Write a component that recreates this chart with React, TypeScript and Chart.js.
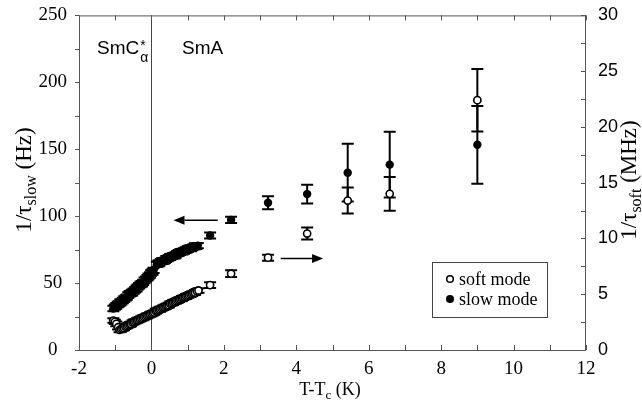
import React, { useEffect, useRef } from "react";
import { Chart, registerables } from "chart.js";
Chart.register(...registerables);

// ---- data ----
// slow mode relaxation rate (Hz, left axis)
const slowT = [
  -1.05, -1.01, -0.97, -0.93, -0.9, -0.86, -0.83, -0.79, -0.75, -0.71, -0.68, -0.64, -0.6, -0.56, -0.53, -0.49,
  -0.45, -0.41, -0.38, -0.34, -0.3, -0.26, -0.23, -0.19, -0.15, -0.11, -0.08, -0.04, -0.01, 0.03, 0.06,
  0.15, 0.19, 0.22, 0.26, 0.3, 0.34, 0.37, 0.41, 0.45, 0.49, 0.52, 0.56, 0.6, 0.64, 0.67, 0.71,
  0.75, 0.79, 0.82, 0.86, 0.9, 0.94, 0.97, 1.01, 1.05, 1.09, 1.12, 1.16, 1.2, 1.24, 1.28,
  1.62, 2.2, 3.22, 4.3, 5.42, 6.58, 9.0,
];
const slowHz = [
  31, 32, 33, 34, 34.5, 35.5, 36, 37, 38, 39, 39.5, 41, 42, 42.5, 43, 44,
  45, 46, 47, 48, 49, 49.5, 50.5, 52, 53, 54, 55, 56, 57.5, 58.5, 59.5,
  64, 64.5, 65, 66, 66.5, 66.5, 67, 68, 68.5, 69, 69.5, 70, 70.5, 70.5, 71, 72,
  72.5, 73, 73.5, 73.5, 74, 74.5, 75, 75.5, 76, 76, 76.5, 77, 77.5, 77.5, 78,
  85.6, 97.2, 110, 116.5, 132.5, 138.5, 153.3,
];
const slowErr = [
  2, 2, 2.2, 2, 2, 2.2, 2, 2, 2.2, 2, 2, 2.2, 2, 2, 2.2, 2,
  2, 2.2, 2, 2, 2.2, 2, 2, 2.2, 2, 2, 2.2, 2, 2, 2.2, 2,
  2, 2.2, 2, 2, 2.2, 2, 2, 2.2, 2, 2, 2.2, 2, 2, 2.2, 2, 2,
  2.2, 2, 2, 2.2, 2, 2, 2.2, 2, 2, 2.2, 2, 2, 2.2, 2, 2,
  2.2, 2.4, 4.8, 7, 21.6, 24.6, 29,
];

// soft mode relaxation rate (MHz, right axis)
const softT = [
  -1.05, -1.01, -0.97, -0.92, -0.88, -0.84, -0.8, -0.76, -0.72, -0.68, -0.64, -0.6, -0.56, -0.52, -0.48,
  -0.44, -0.4, -0.36, -0.32, -0.28, -0.24, -0.2, -0.16, -0.12, -0.08, -0.04, 0.0, 0.04, 0.08, 0.12,
  0.16, 0.2, 0.24, 0.28, 0.32, 0.36, 0.4, 0.44, 0.48, 0.52, 0.56, 0.6, 0.64, 0.68, 0.72,
  0.76, 0.8, 0.84, 0.88, 0.92, 0.96, 1.0, 1.04, 1.08, 1.12, 1.16, 1.2, 1.25, 1.3,
  1.62, 2.2, 3.22, 4.3, 5.42, 6.58, 9.0,
];
const softMHz = [
  2.64, 2.52, 2.34, 2.04, 1.8, 1.86, 1.92, 1.98, 2.1, 2.16, 2.22, 2.28, 2.34, 2.46, 2.52,
  2.58, 2.64, 2.7, 2.76, 2.82, 2.88, 2.94, 3.0, 3.06, 3.12, 3.18, 3.24, 3.3, 3.36, 3.48,
  3.54, 3.6, 3.66, 3.72, 3.78, 3.84, 3.9, 3.96, 4.02, 4.14, 4.2, 4.26, 4.32, 4.38, 4.44,
  4.5, 4.56, 4.62, 4.68, 4.74, 4.8, 4.86, 4.92, 4.98, 5.04, 5.1, 5.16, 5.28, 5.34,
  5.82, 6.84, 8.28, 10.44, 13.4, 14.0, 22.4,
];
const softErr = [
  0.2, 0.2, 0.22, 0.2, 0.2, 0.22, 0.2, 0.2, 0.22, 0.2, 0.2, 0.22, 0.2, 0.2, 0.22,
  0.2, 0.2, 0.22, 0.2, 0.2, 0.22, 0.2, 0.2, 0.22, 0.2, 0.2, 0.22, 0.2, 0.2, 0.22,
  0.2, 0.2, 0.22, 0.2, 0.2, 0.22, 0.2, 0.2, 0.22, 0.2, 0.2, 0.22, 0.2, 0.2, 0.22,
  0.2, 0.2, 0.22, 0.2, 0.2, 0.22, 0.2, 0.2, 0.22, 0.2, 0.2, 0.22, 0.2, 0.2,
  0.25, 0.3, 0.27, 0.54, 1.16, 1.52, 2.8,
];

const xTicks = [-2, 0, 2, 4, 6, 8, 10, 12];
const yLeftTicks = [0, 50, 100, 150, 200, 250];
const yRightTicks = [0, 5, 10, 15, 20, 25, 30];

const phaseBoundary = 0;
const arrowSlow = { from: 1.83, to: 0.61, y: 97 };
const arrowSoft = { from: 3.57, to: 4.74, y: 8.2 };

const SERIF = '"Liberation Serif", "Times New Roman", serif';
const SANS = '"Liberation Sans", Arial, sans-serif';

function drawRich(ctx: CanvasRenderingContext2D, parts: { t: string; f: string; dy: number }[], cx: number, cy: number, rot: number, align: "center" | "left" = "center") {
  ctx.save();
  ctx.translate(cx, cy);
  ctx.rotate(rot);
  ctx.textBaseline = "alphabetic";
  ctx.textAlign = "left";
  let w = 0;
  for (const p of parts) { ctx.font = p.f; w += ctx.measureText(p.t).width; }
  let x = align === "center" ? -w / 2 : 0;
  for (const p of parts) {
    ctx.font = p.f;
    ctx.fillText(p.t, x, p.dy);
    x += ctx.measureText(p.t).width;
  }
  ctx.restore();
}

function arrow(ctx: CanvasRenderingContext2D, x1: number, y1: number, x2: number, y2: number) {
  const dir = Math.sign(x2 - x1);
  const hl = 11, hw = 4.5;
  ctx.beginPath();
  ctx.moveTo(x1, y1);
  ctx.lineTo(x2 - dir * hl, y2);
  ctx.stroke();
  ctx.beginPath();
  ctx.moveTo(x2, y2);
  ctx.lineTo(x2 - dir * hl, y2 - hw);
  ctx.lineTo(x2 - dir * hl, y2 + hw);
  ctx.closePath();
  ctx.fill();
}

const decor = {
  id: "decor",
  beforeDatasetsDraw(chart: any) {
    const { ctx, chartArea: a, scales } = chart;
    const xs = scales.x, ys = scales.y, y1 = scales.y1;
    ctx.save();
    ctx.strokeStyle = "#444";
    ctx.lineWidth = 1;
    const px0 = Math.round(xs.getPixelForValue(phaseBoundary)) + 0.5;
    ctx.beginPath();
    ctx.moveTo(px0, a.top);
    ctx.lineTo(px0, a.bottom);
    ctx.stroke();
    ctx.strokeStyle = "#000";
    ctx.lineWidth = 2;
    const drawErr = (T: number[], V: number[], E: number[], sc: any) => {
      for (let i = 0; i < T.length; i++) {
        const px = xs.getPixelForValue(T[i]);
        const top = sc.getPixelForValue(V[i] + E[i]);
        const bot = sc.getPixelForValue(V[i] - E[i]);
        ctx.beginPath();
        ctx.moveTo(px, top); ctx.lineTo(px, bot);
        ctx.moveTo(px - 6, top); ctx.lineTo(px + 6, top);
        ctx.moveTo(px - 6, bot); ctx.lineTo(px + 6, bot);
        ctx.stroke();
      }
    };
    drawErr(slowT, slowHz, slowErr, ys);
    drawErr(softT, softMHz, softErr, y1);
    ctx.restore();
  },
  afterDraw(chart: any) {
    const { ctx, chartArea: a, scales } = chart;
    const xs = scales.x, ys = scales.y, y1 = scales.y1;
    ctx.save();
    ctx.strokeStyle = "#555";
    ctx.lineWidth = 1;
    ctx.strokeRect(a.left + 0.5, a.top + 0.5, a.right - a.left - 1, a.bottom - a.top);
    ctx.beginPath();
    for (let v = -2; v <= 12; v++) {
      const px = Math.round(xs.getPixelForValue(v)) + 0.5;
      ctx.moveTo(px, a.bottom); ctx.lineTo(px, a.bottom - 5);
      ctx.moveTo(px, a.top); ctx.lineTo(px, a.top + 5);
    }
    for (let v = 0; v <= 250; v += 25) {
      const py = Math.round(ys.getPixelForValue(v)) + 0.5;
      ctx.moveTo(a.left, py); ctx.lineTo(a.left - 4, py);
    }
    for (let v = 0; v <= 30; v += 2.5) {
      const py = Math.round(y1.getPixelForValue(v)) + 0.5;
      ctx.moveTo(a.right, py); ctx.lineTo(a.right - 5, py);
    }
    ctx.stroke();

    ctx.fillStyle = "#000";
    ctx.strokeStyle = "#000";
    ctx.lineWidth = 1.5;
    arrow(ctx, xs.getPixelForValue(arrowSlow.from), ys.getPixelForValue(arrowSlow.y), xs.getPixelForValue(arrowSlow.to), ys.getPixelForValue(arrowSlow.y));
    arrow(ctx, xs.getPixelForValue(arrowSoft.from), y1.getPixelForValue(arrowSoft.y), xs.getPixelForValue(arrowSoft.to), y1.getPixelForValue(arrowSoft.y));

    const lx = a.left + 18, ly = a.top + 39;
    drawRich(ctx, [{ t: "SmC", f: `19px ${SANS}`, dy: 0 }], lx, ly, 0, "left");
    ctx.font = `19px ${SANS}`;
    const wC = ctx.measureText("SmC").width;
    ctx.font = `14px ${SANS}`;
    ctx.textAlign = "left";
    ctx.fillText("α", lx + wC + 1, ly + 8);
    ctx.fillText("*", lx + wC + 1, ly - 4);
    drawRich(ctx, [{ t: "SmA", f: `19px ${SANS}`, dy: 0 }], a.left + 103, ly, 0, "left");

    const bx = a.right - 154, by = a.bottom - 88, bw = 115, bh = 55;
    ctx.strokeStyle = "#444";
    ctx.lineWidth = 1;
    ctx.strokeRect(bx + 0.5, by + 0.5, bw, bh);
    ctx.lineWidth = 1.5;
    ctx.strokeStyle = "#000";
    ctx.beginPath();
    ctx.arc(bx + 18, by + 17, 3.3, 0, Math.PI * 2);
    ctx.fillStyle = "#fff"; ctx.fill(); ctx.stroke();
    ctx.fillStyle = "#000";
    ctx.beginPath();
    ctx.arc(bx + 18, by + 37, 4, 0, Math.PI * 2);
    ctx.fill();
    ctx.font = `18px ${SERIF}`;
    ctx.textAlign = "left";
    ctx.textBaseline = "alphabetic";
    ctx.fillText("soft mode", bx + 27, by + 23);
    ctx.fillText("slow mode", bx + 27, by + 43);

    drawRich(ctx, [
      { t: "1/τ", f: `23px ${SERIF}`, dy: 0 },
      { t: "slow", f: `16px ${SERIF}`, dy: 5 },
      { t: " (Hz)", f: `23px ${SERIF}`, dy: 0 },
    ], 31, 180, -Math.PI / 2);
    drawRich(ctx, [
      { t: "1/τ", f: `23px ${SERIF}`, dy: 0 },
      { t: "soft", f: `16px ${SERIF}`, dy: 5 },
      { t: " (MHz)", f: `23px ${SERIF}`, dy: 0 },
    ], 636, 180, -Math.PI / 2);
    drawRich(ctx, [
      { t: "T-T", f: `18px ${SERIF}`, dy: 0 },
      { t: "c", f: `13px ${SERIF}`, dy: 4 },
      { t: " (K)", f: `18px ${SERIF}`, dy: 0 },
    ], 330, 395, 0);
    ctx.restore();
  },
};

export default function App() {
  const ref = useRef<HTMLCanvasElement>(null);
  useEffect(() => {
    document.body.style.margin = "0";
    const chart = new Chart(ref.current!, {
      type: "scatter",
      data: {
        datasets: [
          {
            label: "soft mode",
            data: softT.map((t, i) => ({ x: t, y: softMHz[i] })),
            yAxisID: "y1",
            pointRadius: 3.6,
            pointBorderWidth: 1.6,
            pointBackgroundColor: "#fff",
            pointBorderColor: "#000",
          },
          {
            label: "slow mode",
            data: slowT.map((t, i) => ({ x: t, y: slowHz[i] })),
            yAxisID: "y",
            pointRadius: 4.2,
            pointBorderWidth: 0,
            pointBackgroundColor: "#000",
            pointBorderColor: "#000",
          },
        ],
      },
      options: {
        animation: false,
        responsive: false,
        events: [],
        layout: { padding: { top: 14, left: 0, right: 0, bottom: 0 } },
        plugins: { legend: { display: false }, tooltip: { enabled: false } },
        scales: {
          x: {
            type: "linear",
            min: -2,
            max: 12,
            grid: { display: false },
            border: { display: false },
            afterBuildTicks: (s: any) => { s.ticks = xTicks.map((v) => ({ value: v })); },
            afterFit: (s: any) => { s.height = 57; },
            ticks: { color: "#000", font: { family: SERIF, size: 19 }, padding: 0, maxRotation: 0, autoSkip: false },
          },
          y: {
            type: "linear",
            position: "left",
            min: 0,
            max: 250,
            grid: { display: false },
            border: { display: false },
            afterBuildTicks: (s: any) => { s.ticks = yLeftTicks.map((v) => ({ value: v })); },
            afterFit: (s: any) => { s.width = 79; },
            ticks: { color: "#000", font: { family: SERIF, size: 19 }, padding: 4, crossAlign: "center", autoSkip: false },
          },
          y1: {
            type: "linear",
            position: "right",
            min: 0,
            max: 30,
            grid: { display: false },
            border: { display: false },
            afterBuildTicks: (s: any) => { s.ticks = yRightTicks.map((v) => ({ value: v })); },
            afterFit: (s: any) => { s.width = 56; },
            ticks: { color: "#000", font: { family: SANS, size: 18 }, padding: 4, autoSkip: false },
          },
        },
      },
      plugins: [decor],
    });
    return () => chart.destroy();
  }, []);
  return (
    <div style={{ position: "absolute", left: 0, top: 0, width: 642, height: 407, background: "#fff" }}>
      <canvas ref={ref} width={642} height={407} style={{ display: "block" }} />
    </div>
  );
}
